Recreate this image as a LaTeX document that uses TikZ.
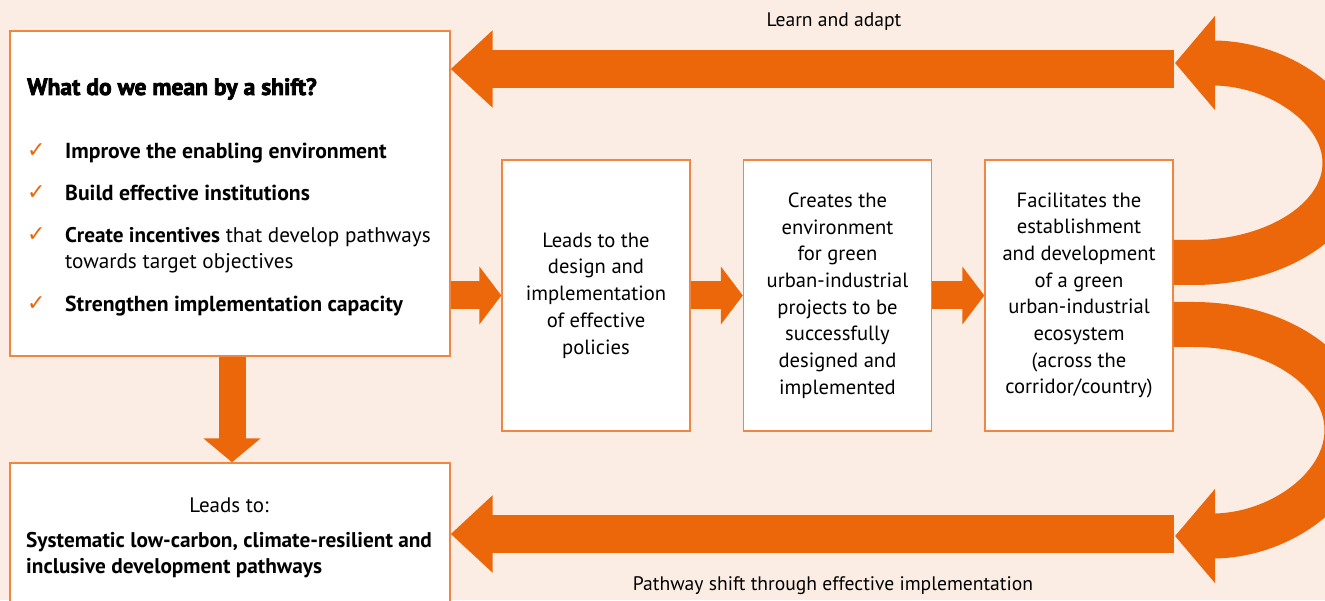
\documentclass[tikz,border=0pt]{standalone}
\usepackage{fontspec}
\setmainfont{PT Sans}
\newfontfamily\heavyfont[FakeBold=3]{PT Sans Bold}
\newfontfamily\symfont{DejaVu Sans}
\usetikzlibrary{arrows.meta}
\definecolor{shiftorange}{RGB}{236,103,9}
\definecolor{boxline}{RGB}{241,134,66}
\definecolor{bgpeach}{RGB}{252,237,228}

\begin{document}
\begin{tikzpicture}[x=1pt,y=1pt,
	stagebox/.style={draw=boxline, line width=1.4pt, fill=white, minimum width=188pt, minimum height=271pt,
		inner sep=0pt, align=center, font=\fontsize{20.6}{26.7}\selectfont},
	fatarrow/.style={draw=shiftorange, line width=28pt, -{Triangle[length=22pt,width=57pt]}},
	bigarrow/.style={draw=shiftorange, line width=38pt, -{Triangle[length=42pt,width=75pt]}},
	curvearrow/.style={draw=shiftorange, line width=45pt, -{Triangle[length=40pt,width=92pt]}},
	itemtext/.style={anchor=base west, inner sep=0pt, font=\fontsize{21.7}{26}\selectfont},
	check/.style={anchor=base west, inner sep=0pt, text=shiftorange, font=\symfont\fontsize{22}{22}\selectfont}]
		\useasboundingbox (0,0) rectangle (1325,600);
		\clip (0,0) rectangle (1325,600);
		\fill[bgpeach] (0,0) rectangle (1325,600);
		
		% boxes
		\node[stagebox, minimum width=440pt, minimum height=325pt] (shift) at (230,406.5) {};
		\node[stagebox, minimum width=440pt, minimum height=150pt] (result) at (230,62) {};
		\node[stagebox] (policy) at (596,304.5) {Leads to the\\design and\\implementation\\of effective\\policies};
		\node[stagebox] (enviro) at (837.5,304.5) {Creates the\\environment\\for green\\urban-industrial\\projects to be\\successfully\\designed and\\implemented};
		\node[stagebox] (ecosys) at (1079,304.5) {Facilitates the\\establishment\\and development\\of a green\\urban-industrial\\ecosystem\\(across the\\corridor/country)};
		
		% text of the shift box
		\node[anchor=base west, inner sep=0pt, font=\heavyfont\fontsize{23.6}{26}\selectfont] (title) at (27,505) {What do we mean by a shift?};
		\foreach \yy [count=\i] in {442,400,358,289}
			\node[check] (chk\i) at (27,\yy) {✓};
		\node[itemtext] (item1) at (65,441) {\bfseries Improve the enabling environment};
		\node[itemtext] (item2) at (65,399) {\bfseries Build effective institutions};
		\node[itemtext, font=\fontsize{21.2}{26}\selectfont] (item3) at (65,357) {\textbf{Create incentives} that develop pathways};
		\node[itemtext, font=\fontsize{21.2}{26}\selectfont] (item3b) at (65,331) {towards target objectives};
		\node[itemtext] (item4) at (65,288) {\bfseries Strengthen implementation capacity};
		
		% text of the result box
		\node[anchor=base, inner sep=0pt, font=\fontsize{21}{26}\selectfont] (leads) at (229,88) {Leads to:};
		\node[itemtext, font=\fontsize{21.3}{26}\selectfont] (res1) at (26,53) {\bfseries Systematic low-carbon, climate-resilient and};
		\node[itemtext, font=\fontsize{21.3}{26}\selectfont] (res2) at (26,27) {\bfseries inclusive development pathways};
		
		% labels
		\node[anchor=base, inner sep=0pt, font=\fontsize{19.6}{24}\selectfont] (learn) at (834,573) {Learn and adapt};
		\node[anchor=base, inner sep=0pt, font=\fontsize{19.6}{24}\selectfont] (pathway) at (833,10) {Pathway shift through effective implementation};
		
		% arrows
		\draw[fatarrow] (shift.east |- policy.west) -- (policy.west);
		\draw[fatarrow] (policy.east) -- (enviro.west);
		\draw[fatarrow] (enviro.east) -- (ecosys.west);
		\draw[fatarrow, line width=27pt, -{Triangle[length=24pt,width=56pt]}] ([xshift=2pt]shift.south) -- ([xshift=2pt]result.north);
		
		\coordinate (lrnR) at (1174,531);
		\coordinate (pthR) at (1174,66);
		\coordinate (lrnTip) at (1175,537);
		\coordinate (pthTip) at (1175,64);
		\draw[bigarrow] (lrnR) -- (lrnR -| shift.east);
		\draw[bigarrow] (pthR) -- (pthR -| result.east);
		
		\draw[curvearrow] ([yshift=33pt]ecosys.east) -- ++(20,0) .. controls (1278,337.5) and (1345,382) .. (1345,437)
			.. controls (1345,492) and (1278,537) .. (lrnTip);
		\draw[curvearrow] ([yshift=-29pt]ecosys.east) -- ++(20,0) .. controls (1279,275.5) and (1347,228) .. (1347,170)
			.. controls (1347,112) and (1279,64) .. (pthTip);
	\end{tikzpicture}
\end{document}
